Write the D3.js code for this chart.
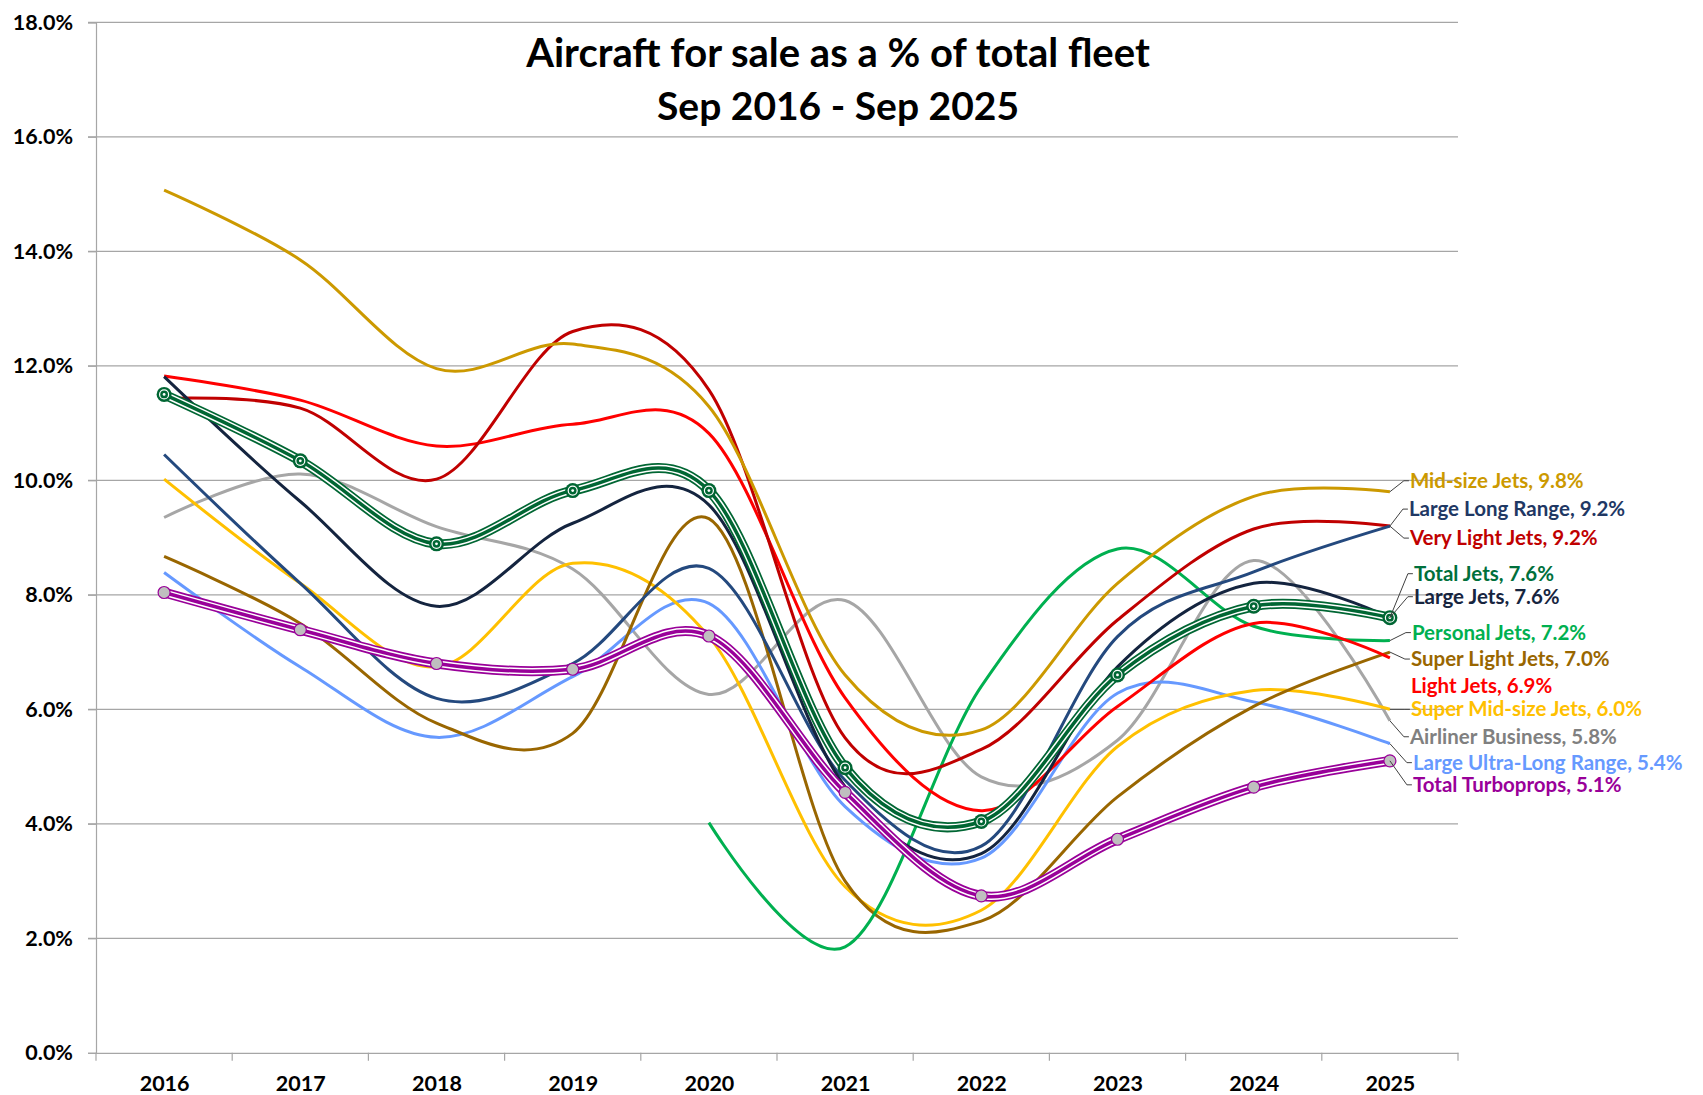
<!DOCTYPE html>
<html>
<head>
<meta charset="utf-8">
<script src="https://cdn.jsdelivr.net/npm/d3@7"></script>
<style>
  body { margin: 0; background: #fff; }
  text { font-family: Lato, "Open Sans", sans-serif; font-weight: bold; }
</style>
</head>
<body>
<div id="chart"></div>
<script>
// year categories
var years = ["2016", "2017", "2018", "2019", "2020", "2021", "2022", "2023", "2024", "2025"];
var yTicks = [0, 2, 4, 6, 8, 10, 12, 14, 16, 18];

// % of fleet for sale, Sep of each year
var midSizeJets      = [15.07, 13.85, 11.95, 12.38, 11.29, 6.6, 5.64, 8.2, 9.72, 9.8];
var largeLongRange   = [10.45, 8.2, 6.19, 6.8, 8.46, 4.76, 3.61, 7.27, 8.4, 9.2];
var veryLightJets    = [11.43, 11.26, 10.02, 12.6, 11.58, 5.5, 5.3, 7.56, 9.15, 9.2];
var totalJets        = [11.5, 10.34, 8.89, 9.82, 9.82, 4.98, 4.04, 6.6, 7.8, 7.6];
var largeJets        = [11.81, 9.63, 7.8, 9.25, 9.57, 4.65, 3.48, 6.74, 8.2, 7.6];
var personalJets     = [null, null, null, null, 4.02, 1.85, 6.4, 8.8, 7.45, 7.2];
var superLightJets   = [8.67, 7.5, 5.76, 5.58, 9.33, 3.0, 2.3, 4.47, 6.05, 7.0];
var lightJets        = [11.82, 11.4, 10.6, 10.98, 10.82, 6.2, 4.23, 6.05, 7.5, 6.9];
var superMidJets     = [10.02, 8.2, 6.74, 8.55, 7.27, 2.9, 2.49, 5.35, 6.33, 6.0];
var airlinerBusiness = [9.35, 10.11, 9.19, 8.45, 6.26, 7.9, 4.82, 5.46, 8.6, 5.8];
var largeUltraLong   = [8.39, 6.74, 5.51, 6.57, 7.85, 4.3, 3.4, 6.28, 6.13, 5.4];
var totalTurboprops  = [8.04, 7.39, 6.8, 6.7, 7.28, 4.55, 2.74, 3.73, 4.64, 5.1];

// series list (draw order), styles + label placement next to the 2025 point
var series = [
    { name: "Airliner Business", values: airlinerBusiness, color: "#A6A6A6", label: "#808080", dx: 20, dy: 16 },
    { name: "Large Ultra-Long Range", values: largeUltraLong, color: "#6699FF", label: "#6699FF", dx: 23, dy: 19 },
    { name: "Super Mid-size Jets", values: superMidJets, color: "#FFC000", label: "#FFC000", dx: 21, dy: 0 },
    { name: "Super Light Jets", values: superLightJets, color: "#996600", label: "#996600", dx: 21, dy: 7 },
    { name: "Personal Jets", values: personalJets, color: "#00B050", label: "#00B050", dx: 22, dy: -8 },
    { name: "Light Jets", values: lightJets, color: "#FF0000", label: "#FF0000", dx: 21, dy: 28, noLeader: true },
    { name: "Very Light Jets", values: veryLightJets, color: "#C00000", label: "#C00000", dx: 20, dy: 12 },
    { name: "Large Long Range", values: largeLongRange, color: "#24497E", label: "#1F3864", dx: 19, dy: -17 },
    { name: "Mid-size Jets", values: midSizeJets, color: "#CC9900", label: "#CC9900", dx: 20, dy: -11 },
    { name: "Large Jets", values: largeJets, color: "#14243F", label: "#17253F", dx: 24, dy: -21 },
    { name: "Total Turboprops", values: totalTurboprops, color: "#990099", label: "#990099", dx: 23, dy: 24, total: true },
    { name: "Total Jets", values: totalJets, color: "#006633", label: "#00703C", dx: 24, dy: -44, total: true }
];

var W = 1703, H = 1095;
var margin = { top: 22.3, right: 245, bottom: 42.2, left: 96 };
var width = W - margin.left - margin.right,
    height = H - margin.top - margin.bottom;

var svg = d3.select("#chart").append("svg")
    .attr("width", W)
    .attr("height", H);

var g = svg.append("g")
    .attr("transform", "translate(" + margin.left + "," + margin.top + ")");

var x = d3.scalePoint().domain(years).range([0, width]).padding(0.5);
var xBand = d3.scaleBand().domain(years).range([0, width]);
var y = d3.scaleLinear().domain([0, 18]).range([height, 0]);

// gridlines
g.append("g")
    .selectAll("line")
    .data(yTicks.filter(d => d > 0))
    .enter().append("line")
    .attr("x1", -8).attr("x2", width)
    .attr("y1", d => y(d)).attr("y2", d => y(d))
    .attr("stroke", "#A6A6A6")
    .attr("stroke-width", 1.2);

// y axis
var yAxis = g.append("g")
    .call(d3.axisLeft(y).tickValues(yTicks).tickSize(8).tickPadding(15)
        .tickFormat(d => d.toFixed(1) + "%"));
yAxis.select(".domain").attr("stroke", "#A6A6A6").attr("stroke-width", 1.2);
yAxis.selectAll(".tick line").attr("stroke", "#A6A6A6").attr("stroke-width", 1.2);
yAxis.selectAll("text").attr("font-size", 21.5).attr("fill", "#000")
    .style("font-family", "Lato, sans-serif").style("font-weight", "bold");

// x axis with ticks between categories
var xAxis = g.append("g")
    .attr("transform", "translate(0," + height + ")")
    .call(d3.axisBottom(x).tickSize(0).tickPadding(23));
xAxis.select(".domain").attr("stroke", "#A6A6A6").attr("stroke-width", 1.2);
xAxis.selectAll("text").attr("font-size", 21.5).attr("fill", "#000")
    .style("font-family", "Lato, sans-serif").style("font-weight", "bold");
g.append("g")
    .selectAll("line")
    .data(years.map(d => xBand(d)).concat([width]))
    .enter().append("line")
    .attr("x1", d => d).attr("x2", d => d)
    .attr("y1", height).attr("y2", height + 8)
    .attr("stroke", "#A6A6A6")
    .attr("stroke-width", 1.2);

// lines
var line = d3.line()
    .defined(d => d != null)
    .x((d, i) => x(years[i]))
    .y(d => y(d))
    .curve(d3.curveCardinal.tension(0));

series.forEach(function(s) {
    if (s.total) {
        g.append("path").attr("d", line(s.values)).attr("fill", "none")
            .attr("stroke", s.color).attr("stroke-width", 10);
        g.append("path").attr("d", line(s.values)).attr("fill", "none")
            .attr("stroke", "#fff").attr("stroke-width", 6.5);
        g.append("path").attr("d", line(s.values)).attr("fill", "none")
            .attr("stroke", s.color).attr("stroke-width", 3.5);
    } else {
        g.append("path").attr("d", line(s.values)).attr("fill", "none")
            .attr("stroke", s.color).attr("stroke-width", 3);
    }
});

// markers on the two totals
var tj = series.find(s => s.name == "Total Jets");
var tp = series.find(s => s.name == "Total Turboprops");

g.append("g").selectAll("circle")
    .data(tp.values)
    .enter().append("circle")
    .attr("cx", (d, i) => x(years[i]))
    .attr("cy", d => y(d))
    .attr("r", 6)
    .attr("fill", "#BFBFBF")
    .attr("stroke", tp.color)
    .attr("stroke-width", 1.2);

var tjm = g.append("g").selectAll("g")
    .data(tj.values)
    .enter().append("g")
    .attr("transform", (d, i) => "translate(" + x(years[i]) + "," + y(d) + ")");
tjm.append("circle").attr("r", 7.5).attr("fill", tj.color);
tjm.append("circle").attr("r", 4.5).attr("fill", "none").attr("stroke", "#fff").attr("stroke-width", 1.2);
tjm.append("circle").attr("r", 1.4).attr("fill", "#fff");

// end labels with leader lines
series.forEach(function(s) {
    var last = s.values[s.values.length - 1];
    var px = x(years[years.length - 1]), py = y(last);
    var lx = px + s.dx, ly = py + s.dy;
    if (!s.noLeader) {
        g.append("polyline")
            .attr("points", [[px, py], [lx - 6, ly], [lx - 1, ly]].map(p => p.join(",")).join(" "))
            .attr("fill", "none")
            .attr("stroke", "#404040")
            .attr("stroke-width", 1);
    }
    g.append("text")
        .attr("x", lx)
        .attr("y", ly)
        .attr("dy", "0.35em")
        .attr("font-size", 20.5)
        .attr("fill", s.label)
        .text(s.name + ", " + last.toFixed(1) + "%");
});

// title
svg.append("text")
    .attr("x", 838).attr("y", 67)
    .attr("text-anchor", "middle")
    .attr("font-size", 40)
    .attr("fill", "#000")
    .text("Aircraft for sale as a % of total fleet");
svg.append("text")
    .attr("x", 838).attr("y", 120)
    .attr("text-anchor", "middle")
    .attr("font-size", 39)
    .attr("fill", "#000")
    .text("Sep 2016 - Sep 2025");
</script>
</body>
</html>
